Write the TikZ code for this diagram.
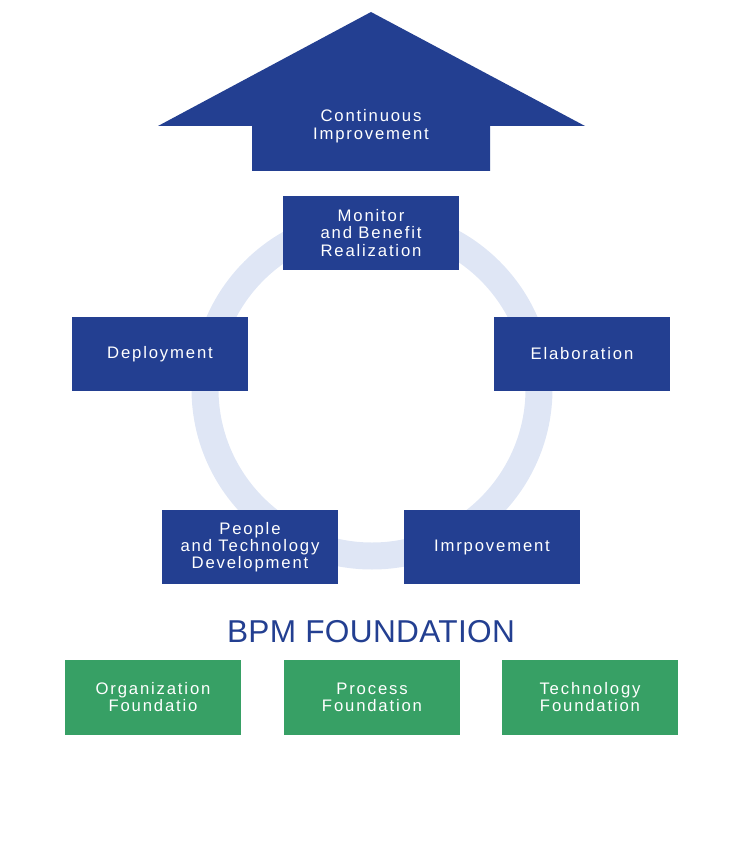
\documentclass[tikz,border=0pt]{standalone}
\usepackage{fontspec}
\setmainfont{Liberation Sans}[LetterSpace=11]
\newfontfamily\titlefont{Liberation Sans}[LetterSpace=1]
\definecolor{bpmblue}{RGB}{35,63,145}
\definecolor{bpmgreen}{RGB}{55,160,101}
\definecolor{bpmring}{RGB}{223,230,245}

\begin{document}
\begin{tikzpicture}[x=0.02cm,y=-0.02cm,
  phase/.style={fill=bpmblue,text=white,minimum width=3.52cm,minimum height=1.5cm,
    align=center,inner sep=0pt,font=\fontsize{9.5}{9.8}\selectfont},
  base/.style={phase,fill=bpmgreen}]%
\useasboundingbox (0,0) rectangle (742,851);%
% arrow on top
\fill[bpmblue] (371,12) -- (585,126) -- (490,126) -- (490,171) -- (252,171) -- (252,126) -- (158,126) -- cycle;%
\node[text=white,align=center,font=\fontsize{9.5}{10}\selectfont] (ci) at (371,126) {Continuous\\Improvement};%
% cycle
\draw[bpmring,line width=0.54cm] (372,389) circle (167);%
\node[phase] (monitor) at (371,233) {Monitor\\and Benefit\\Realization};%
\node[phase] (deploy) at (160,354) {Deployment};%
\node[phase] (elab) at (582,354) {Elaboration};%
\node[phase] (people) at (250,547) {People\\and Technology\\Development};%
\node[phase] (improve) at (492,547) {Imrpovement};%
% foundation
\node[text=bpmblue,font=\titlefont\fontsize{18}{20}\selectfont] (bpm) at (371,632) {BPM FOUNDATION};%
\node[base] (org) at (153,697) {Organization\\Foundatio};%
\node[base] (proc) at (372,697) {Process\\Foundation};%
\node[base] (tech) at (590,697) {Technology\\Foundation};%
\end{tikzpicture}
\end{document}
